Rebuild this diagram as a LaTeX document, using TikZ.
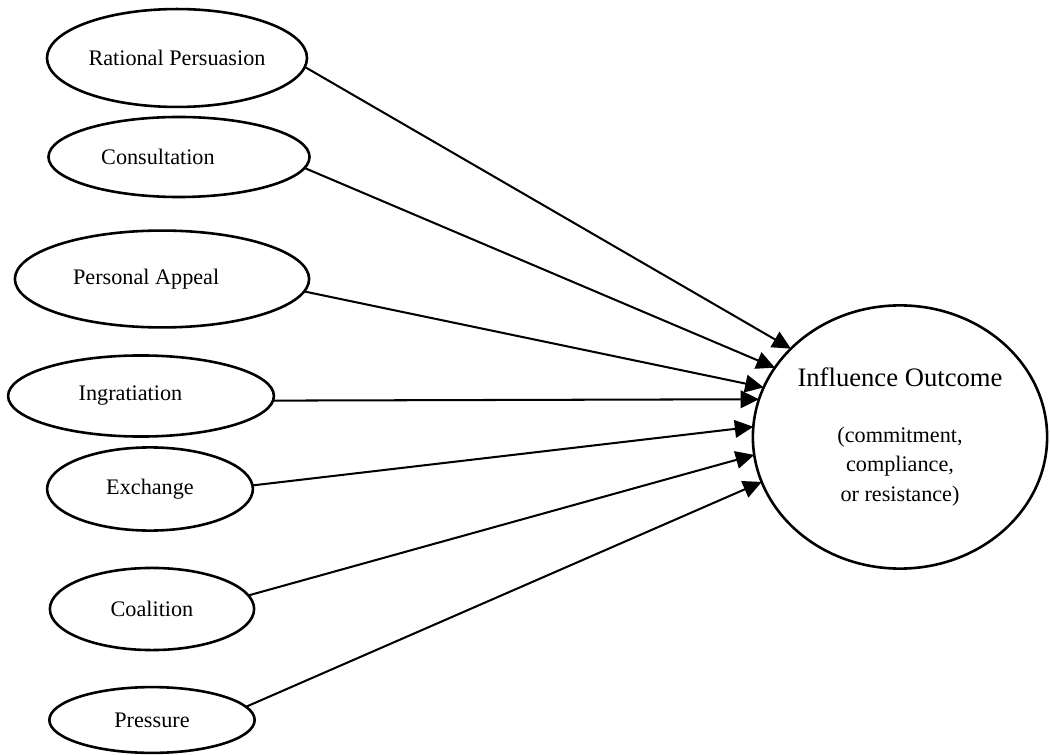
\documentclass[tikz,border=0pt]{standalone}
\usepackage{fontspec}
\setmainfont{Liberation Serif}
\usetikzlibrary{shapes.geometric, arrows.meta}

\begin{document}
\begin{tikzpicture}[x=0.019cm, y=-0.019cm,
    tactic/.style={draw, ellipse, line width=1.4pt, inner sep=0pt, outer sep=0pt, font=\fontsize{12}{14.5}\selectfont},
    link/.style={-{Triangle[length=10pt, width=9.5pt]}, line width=1.1pt}]
    \useasboundingbox (0,0) rectangle (1050,755);

    % Influence tactics
    \node[tactic, minimum width=4.94cm, minimum height=1.86cm] (rational) at (177, 58) {Rational Persuasion};
    \node[tactic, minimum width=4.96cm, minimum height=1.52cm] (consult) at (179, 157) {Consultation\hspace*{0.8cm}};
    \node[tactic, minimum width=5.59cm, minimum height=1.84cm] (appeal) at (162, 279) {Personal Appeal\hspace*{0.6cm}};
    \node[tactic, minimum width=5.05cm, minimum height=1.54cm] (ingrat) at (141, 396) {Ingratiation\hspace*{0.4cm}};
    \node[tactic, minimum width=3.91cm, minimum height=1.58cm] (exchange) at (150, 489) {Exchange};
    \node[tactic, minimum width=3.88cm, minimum height=1.56cm] (coalition) at (152, 609) {Coalition};
    \node[tactic, minimum width=3.90cm, minimum height=1.25cm] (pressure) at (152, 720) {Pressure};

    % Outcome
    \node[tactic, align=center, minimum width=5.59cm, minimum height=5.0cm] (outcome) at (900, 437)
        {{\fontsize{14.4}{17}\selectfont Influence Outcome}\\[16pt] (commitment,\\[1pt] compliance,\\[2pt] or resistance)};

    % Arrows into the outcome
    \draw[link] (rational.356) -- (outcome.141);
    \draw[link] (consult.355) -- (outcome.151);
    \draw[link] (appeal.355) -- (outcome.160);
    \draw[link] (ingrat.358) -- (outcome.165);
    \draw[link] (exchange.2) -- (outcome.176);
    \draw[link] (coalition.8) -- (outcome.187);
    \draw[link] (pressure.8) -- (outcome.198);

\end{tikzpicture}
\end{document}
